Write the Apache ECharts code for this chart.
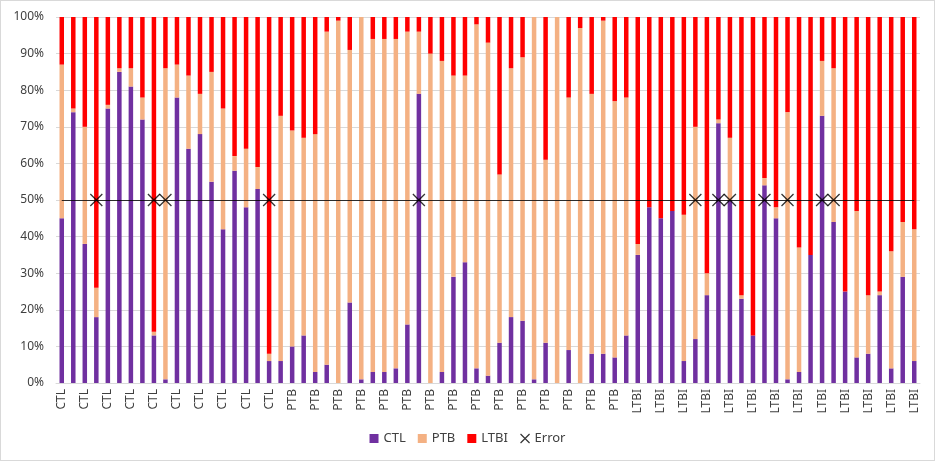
<!DOCTYPE html>
<html>
<head>
<meta charset="utf-8">
<script src="https://cdn.jsdelivr.net/npm/echarts@6/dist/echarts.min.js"></script>
<style>
html,body{margin:0;padding:0;background:#fff;}
#c{width:933px;height:459px;border:1px solid #d9d9d9;}
</style>
</head>
<body>
<div id="c"></div>
<script>
// Group label of each sample (bar)
const groups = [
  ...Array(19).fill('CTL'),
  ...Array(31).fill('PTB'),
  ...Array(25).fill('LTBI')
];
// CTL share (%) per sample
const ctlValues = [45,74,38,18,75,85,81,72,13,1,78,64,68,55,42,58,48,53,6,
  6,10,13,3,5,0,22,1,3,3,4,16,79,0,3,29,33,4,2,11,18,17,1,11,0,9,0,8,8,7,13,
  35,48,45,47,6,12,24,71,50,23,13,54,45,1,3,35,73,44,25,7,8,24,4,29,6];
// PTB share (%) per sample
const ptbValues = [42,1,32,8,1,1,5,6,1,85,9,20,11,30,33,4,16,6,2,
  67,59,54,65,91,99,69,99,91,91,90,80,17,90,85,55,51,94,91,46,68,72,99,50,100,69,97,71,91,70,65,
  3,0,0,0,40,58,6,1,17,1,0,2,3,73,34,0,15,42,0,40,16,1,32,15,36];
// LTBI share (%) per sample
const ltbiValues = [13,25,30,74,24,14,14,22,86,14,13,16,21,15,25,38,36,41,92,
  27,31,33,32,4,1,9,0,6,6,6,4,4,10,12,16,16,2,7,43,14,11,0,39,0,22,3,21,1,23,22,
  62,52,55,53,54,30,70,28,33,76,87,44,52,26,63,65,12,14,75,53,76,75,64,56,58];
// Samples (0-based index) flagged as errors, drawn at 50%
const errorIdx = [3,8,9,18,31,55,57,58,61,63,66,67];
const errorLevel = 50;
const yTicks = [0,10,20,30,40,50,60,70,80,90,100];

const xPath = 'path://M0,0L10,10M10,0L0,10';
const font = 'Noto Sans';
const chart = echarts.init(document.getElementById('c'));
chart.setOption({
  animation: false,
  textStyle: {fontFamily: font},
  grid: {left: 55, right: 14, top: 16, bottom: 77},
  legend: {
    bottom: 10, left: 'center', itemGap: 12, itemWidth: 9, itemHeight: 9,
    textStyle: {fontSize: 13, color: '#404040', fontFamily: font},
    data: [
      {name: 'CTL', icon: 'rect'},
      {name: 'PTB', icon: 'rect'},
      {name: 'LTBI', icon: 'rect'},
      {name: 'Error', icon: xPath, itemStyle: {color: 'transparent', borderColor: '#000', borderWidth: 1.2}}
    ]
  },
  xAxis: {
    type: 'category',
    data: groups,
    axisTick: {show: false},
    axisLine: {lineStyle: {color: '#d9d9d9'}},
    axisLabel: {interval: 1, rotate: 90, fontSize: 12, color: '#404040', margin: 6, fontFamily: font}
  },
  yAxis: {
    type: 'value', min: yTicks[0], max: yTicks[yTicks.length-1], interval: 10,
    axisLabel: {formatter: '{value}%', fontSize: 12, color: '#404040', margin: 12, fontFamily: font},
    splitLine: {lineStyle: {color: '#d9d9d9'}},
    axisLine: {show: false}, axisTick: {show: false}
  },
  series: [
    {name: 'CTL', type: 'bar', stack: 't', barWidth: 4.5, data: ctlValues, itemStyle: {color: '#7030A0'}},
    {name: 'PTB', type: 'bar', stack: 't', barWidth: 4.5, data: ptbValues, itemStyle: {color: '#F4B183'}},
    {name: 'LTBI', type: 'bar', stack: 't', barWidth: 4.5, data: ltbiValues, itemStyle: {color: '#FF0000'}},
    {
      name: 'Error', type: 'scatter', symbol: xPath, symbolSize: 12, z: 5,
      data: errorIdx.map(i => [i, errorLevel]),
      itemStyle: {color: 'transparent', borderColor: '#000', borderWidth: 1.3},
      markLine: {
        silent: true, symbol: 'none', label: {show: false},
        lineStyle: {color: '#000', width: 1, type: 'solid', opacity: 0.8},
        data: [[{coord: [0, errorLevel]}, {coord: [groups.length - 1, errorLevel]}]]
      }
    }
  ]
});
</script>
</body>
</html>
